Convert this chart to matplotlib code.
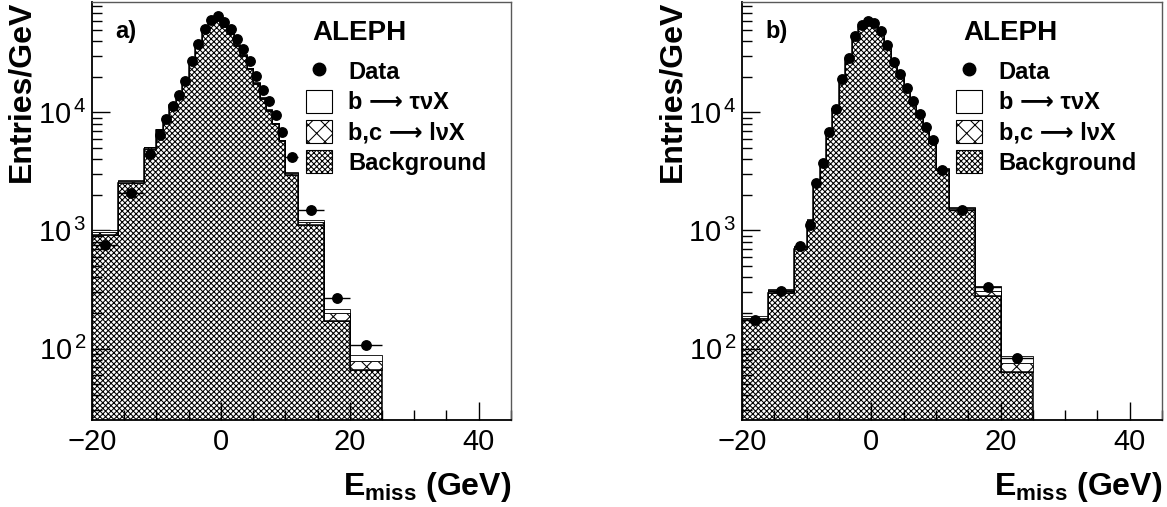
import numpy as np
import matplotlib
matplotlib.use("Agg")
import matplotlib.pyplot as plt
from matplotlib.patches import Patch
from matplotlib.lines import Line2D
from matplotlib.ticker import FixedLocator, LogLocator, MultipleLocator, NullFormatter

plt.rcParams['font.family'] = ['Liberation Sans', 'DejaVu Sans']
plt.rcParams['mathtext.fontset'] = 'custom'
plt.rcParams['mathtext.rm'] = 'Liberation Sans'
plt.rcParams['mathtext.bf'] = 'Liberation Sans:bold'
plt.rcParams['mathtext.it'] = 'Liberation Sans:italic'
plt.rcParams['hatch.linewidth'] = 0.75

# bin edges (GeV), same for both panels
edges = [-20, -16, -12, -10, -9, -8, -7, -6, -5, -4, -3, -2, -1, 0,
         1, 2, 3, 4, 5, 6, 7, 8, 9, 10, 12, 16, 20, 25]

# panel a)  (entries / GeV)
data_a = [760, 2060, 4450, 6460, 8780, 11250, 14170, 18360, 27150, 37660,
          50550, 60640, 65600, 58330, 51260, 41560, 34670, 27150, 20500, 15600,
          12400, 9550, 6890, 4170, 1486, 267, 107]
bkg_a = [920, 2550, 4950, 7090, 9130, 11460, 14170, 18050, 26210, 35930,
         47590, 56820, 60700, 53410, 46120, 36880, 30080, 23280, 17450, 13080,
         10260, 7930, 5690, 2950, 1120, 170, 65.5]
lnu_a = [55, 80, 120, 140, 180, 230, 290, 370, 530, 720,
         950, 1130, 1210, 1070, 930, 750, 620, 480, 370, 280,
         230, 180, 140, 120, 60, 29, 13]
tau_a = [25, 40, 60, 70, 90, 110, 140, 180, 260, 350,
         460, 550, 590, 520, 450, 370, 300, 240, 180, 140,
         110, 90, 70, 80, 42, 17, 9.5]

# panel b)
data_b = [173, 305, 738, 1122, 2515, 3706, 6820, 10740, 19200, 29200,
          44400, 55000, 60100, 57400, 48900, 37100, 26800, 21200, 16100, 12600,
          9750, 7530, 5820, 3260, 1483, 330, 83.6]
bkg_b = [173, 296, 695, 1180, 2510, 3815, 6840, 10660, 18910, 28610,
         42670, 53350, 57720, 54810, 46560, 35400, 25700, 20180, 15330, 11930,
         9215, 7075, 5520, 3235, 1500, 280, 63.7]
lnu_b = [10, 15, 30, 40, 60, 90, 150, 230, 400, 600,
         900, 1110, 1200, 1140, 970, 740, 540, 420, 320, 250,
         190, 150, 120, 80, 45, 29, 11.3]
tau_b = [5, 8, 15, 20, 30, 45, 70, 110, 190, 290,
         430, 540, 580, 550, 470, 360, 260, 200, 150, 120,
         95, 75, 60, 50, 35, 27, 12]

legend_labels = ["Data", "b \u27f6 \u03c4\u03bdX", "b,c \u27f6 l\u03bdX", "Background"]

BG_HATCH = 'xxxxxx'
LNU_HATCH = 'xx'


def drawPanel(ax, data, bkg, lnu, tau, tag):
    e = np.array(edges, dtype=float)
    bkg = np.array(bkg, dtype=float)
    s1 = bkg + np.array(lnu)
    s2 = s1 + np.array(tau)

    ax.stairs(bkg, e, baseline=1.0, fill=True, facecolor='white',
              edgecolor='black', hatch=BG_HATCH, lw=0, zorder=1)
    ax.stairs(s1, e, baseline=bkg, fill=True, facecolor='white',
              edgecolor='black', hatch=LNU_HATCH, lw=0.6, zorder=2)
    ax.stairs(s2, e, baseline=s1, fill=True, facecolor='white',
              edgecolor='black', lw=0.6, zorder=3)
    ax.stairs(bkg, e, baseline=1.0, fill=False, edgecolor='black', lw=1.1, zorder=4)

    centers = 0.5 * (e[1:] + e[:-1])
    half = 0.5 * (e[1:] - e[:-1])
    ax.errorbar(centers, data, xerr=half, fmt='o', color='black', ms=6.8,
                elinewidth=1.0, capsize=0, zorder=5)

    ax.set_yscale('log')
    ax.set_xlim(-20, 45)
    ax.set_ylim(24.8, 86300)

    ax.xaxis.set_major_locator(FixedLocator([-20, 0, 20, 40]))
    ax.xaxis.set_minor_locator(MultipleLocator(5))
    ax.set_xticklabels(['\u221220', '0', '20', '40'])
    ax.yaxis.set_major_locator(FixedLocator([1e2, 1e3, 1e4]))
    ax.set_yticklabels([r'$10^{\,2}$', r'$10^{\,3}$', r'$10^{\,4}$'])
    ax.yaxis.set_minor_locator(LogLocator(base=10, subs=range(2, 10), numticks=20))
    ax.yaxis.set_minor_formatter(NullFormatter())

    ax.tick_params(which='both', direction='in', top=False, right=False,
                   labelsize=21, width=1.0)
    ax.tick_params(which='major', length=13)
    ax.tick_params(which='minor', length=7)
    ax.tick_params(axis='x', pad=6)
    ax.tick_params(axis='y', pad=4)
    for sp in ['left', 'bottom']:
        ax.spines[sp].set_linewidth(1.3)
    for sp in ['top', 'right']:
        ax.spines[sp].set_linewidth(1.0)
        ax.spines[sp].set_color('0.35')

    ax.text(0.055, 0.93, tag, transform=ax.transAxes, fontsize=17,
            fontweight='bold', va='center', ha='left')
    ax.text(0.527, 0.926, "ALEPH", transform=ax.transAxes, fontsize=20,
            fontweight='bold', va='center', ha='left')

    handles = [Line2D([], [], marker='o', color='black', ls='none', ms=9),
               Patch(facecolor='white', edgecolor='black', lw=0.8),
               Patch(facecolor='white', edgecolor='black', lw=0.8, hatch=LNU_HATCH),
               Patch(facecolor='white', edgecolor='black', lw=0.8, hatch=BG_HATCH)]
    ax.legend(handles, legend_labels, loc='upper left', bbox_to_anchor=(0.51, 0.862),
              frameon=False, prop={'weight': 'bold', 'size': 17},
              handlelength=1.1, handleheight=1.1, handletextpad=0.7,
              labelspacing=0.25, borderaxespad=0, borderpad=0)


fig = plt.figure(figsize=(11.67, 5.07), dpi=100)
ax1 = fig.add_axes([0.0788, 0.1716, 0.359, 0.8245])
ax2 = fig.add_axes([0.6358, 0.1716, 0.36, 0.8245])

drawPanel(ax1, data_a, bkg_a, lnu_a, tau_a, "a)")
drawPanel(ax2, data_b, bkg_b, lnu_b, tau_b, "b)")

for xl in [21, 672]:
    fig.text(xl / 1167, 0.998, "Entries/GeV", rotation=90, fontsize=23,
             fontweight='bold', ha='center', va='top')
for xr in [511, 1162]:
    fig.text(xr / 1167, 12 / 507, r'$\mathbf{E_{miss}}$ (GeV)', fontsize=23,
             fontweight='bold', ha='right', va='baseline')

fig.savefig("out.png", dpi=100)
